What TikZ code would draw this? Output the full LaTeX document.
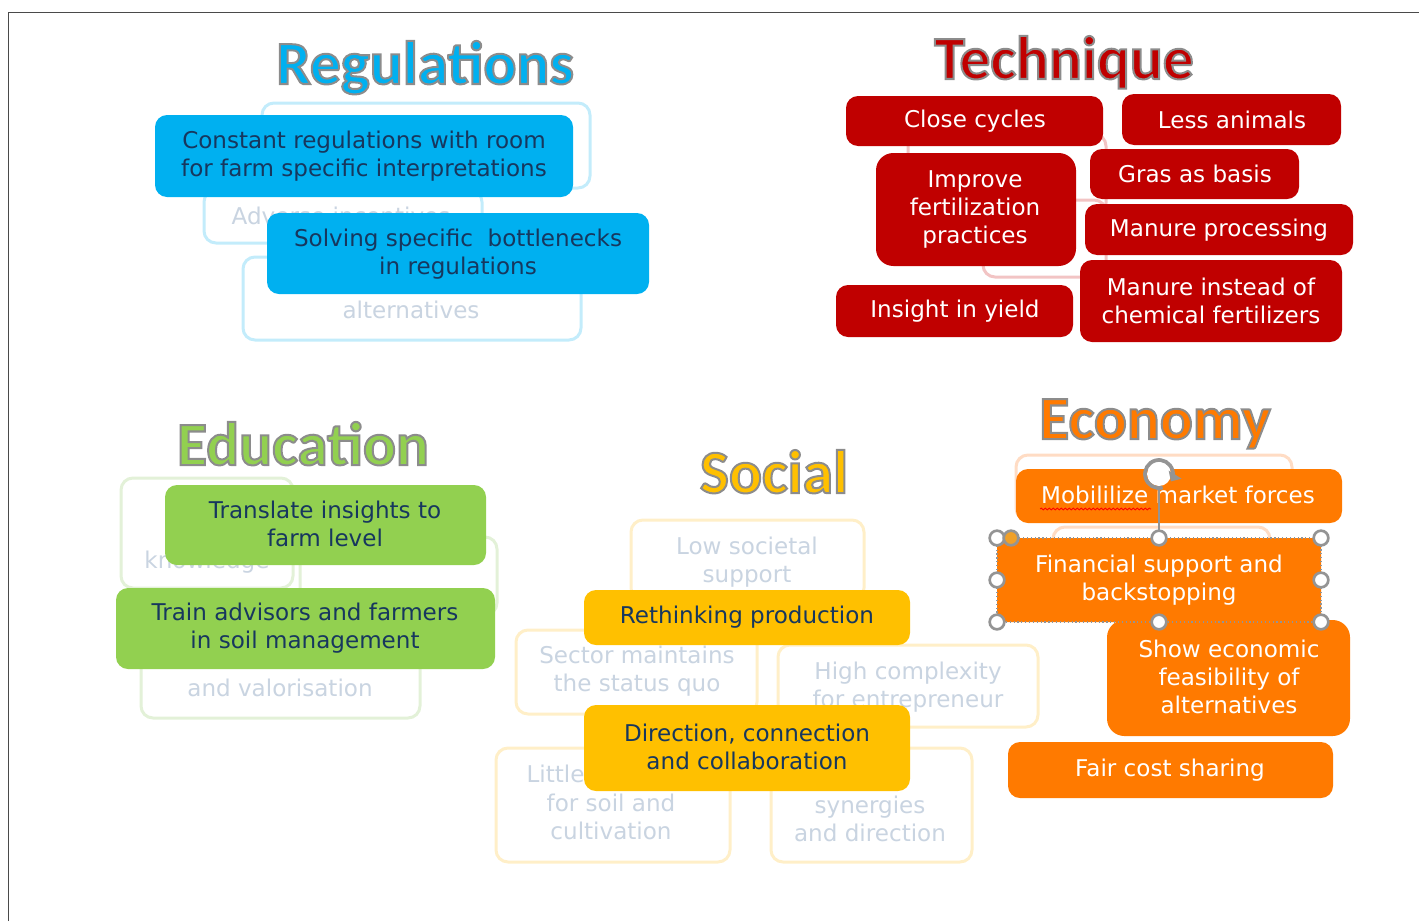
\documentclass[tikz,border=0pt]{standalone}
\usepackage{fontspec}
\setmainfont{DejaVu Sans}
\newfontfamily\titlefont{Carlito}
\usetikzlibrary{decorations.pathmorphing,arrows.meta}

\definecolor{regblue}{HTML}{00B0F0}
\definecolor{techred}{HTML}{C00000}
\definecolor{edugreen}{HTML}{92D050}
\definecolor{socyellow}{HTML}{FFC000}
\definecolor{ecoorange}{HTML}{FF7A00}
\definecolor{navytext}{HTML}{17375E}
\definecolor{fadetext}{HTML}{C9D4E1}
\definecolor{fadeblue}{HTML}{C3ECFB}
\definecolor{fadegreen}{HTML}{E3F1D8}
\definecolor{fadeyellow}{HTML}{FFEFC8}
\definecolor{fadeorange}{HTML}{FFDCC4}
\definecolor{fadepink}{HTML}{F2C4C4}
\definecolor{handlegray}{HTML}{949494}
\definecolor{handleorange}{HTML}{F0A028}
\definecolor{framegray}{HTML}{4A4A4A}

\tikzset{every picture/.style={line width=0.75pt},
  card/.style={rounded corners=9pt, draw=none},
  faint/.style={rounded corners=9pt, line width=2.25pt, fill=white},
  cardtext/.style={inner sep=0.75pt, align=center, font=\fontsize{17.3}{21}\selectfont},
  fainttext/.style={cardtext, text=fadetext},
  titletext/.style={anchor=base, inner sep=0pt, font=\titlefont\bfseries\fontsize{46}{54}\selectfont},
  handle/.style={circle, draw=handlegray, line width=2pt, fill=white, minimum size=11pt, inner sep=0pt},
}

% filled title letters with a grey rim (pdf text render mode 2)
\newcommand{\rimmed}[1]{\special{pdf:literal direct 0.55 0.55 0.55 RG 1.5 w 2 Tr}#1\special{pdf:literal direct 0 Tr}}

\begin{document}
\begin{tikzpicture}[x=0.75pt,y=0.75pt,yscale=-1,xscale=1]
\useasboundingbox (0,0) rectangle (1419,921);

%Frame
\draw [color=framegray, line width=1.1pt] (8.5,921) -- (8.5,12.5) -- (1419,12.5);

%%%%%%%% Regulations
%Faded boxes
\draw [faint, draw=fadeblue] (262,103) rectangle (590,188);
\draw [faint, draw=fadeblue] (204,190) rectangle (482,243);
\node [fainttext] (adverse) at (341,216) {Adverse incentives};
\draw [faint, draw=fadeblue] (243,257) rectangle (581,340);
\node [fainttext] (altreg) at (411,310) {alternatives};
%Cards
\draw [card, fill=regblue] (155,115) rectangle (573,197);
\node [cardtext, text=navytext] (constant) at (364,156) {Constant regulations with room\\for farm specific interpretations};
\draw [card, fill=regblue] (267,213) rectangle (649,294);
\node [cardtext, text=navytext] (solving) at (458,254) {Solving specific\ \ bottlenecks\\in regulations};
% Title
\node [titletext, text=regblue] (regtitle) at (425,84) {\rimmed{Regulations}};

%%%%%%%% Technique
%Faded boxes
\draw [faint, draw=fadepink] (908,134) rectangle (1106,215);
\draw [faint, draw=fadepink] (983,200) rectangle (1106,277);
%Cards
\draw [card, fill=techred] (846,96) rectangle (1103,146);
\node [cardtext, text=white] (close) at (975,121) {Close cycles};
\draw [card, fill=techred] (1122,94) rectangle (1341,145);
\node [cardtext, text=white] (less) at (1232,120) {Less animals};
\draw [card, rounded corners=13pt, fill=techred] (876,153) rectangle (1076,266);
\node [cardtext, text=white] (improve) at (975,209) {Improve\\fertilization\\practices};
\draw [card, fill=techred] (1090,149) rectangle (1299,199);
\node [cardtext, text=white] (gras) at (1195,174) {Gras as basis};
\draw [card, fill=techred] (1085,204) rectangle (1353,255);
\node [cardtext, text=white] (processing) at (1219,230) {Manure processing};
\draw [card, fill=techred] (1080,260) rectangle (1342,342);
\node [cardtext, text=white] (instead) at (1211,301) {Manure instead of\\chemical fertilizers};
\draw [card, fill=techred] (836,285) rectangle (1073,337);
\node [cardtext, text=white] (insight) at (955,311) {Insight in yield};
% Title
\node [titletext, text=techred] (techtitle) at (1064,79) {\rimmed{Technique}};

%%%%%%%% Education
%Faded boxes
\draw [faint, draw=fadegreen] (121,478) rectangle (293,588);
\node [fainttext] (knowledge) at (207,562) {knowledge};
\draw [faint, draw=fadegreen] (300,537) rectangle (497,615);
\draw [faint, draw=fadegreen] (141,640) rectangle (420,718);
\node [fainttext] (valor) at (280,688) {and valorisation};
%Cards
\draw [card, fill=edugreen] (165,485) rectangle (486,565);
\node [cardtext, text=navytext] (translate) at (325,524) {Translate insights to\\farm level};
\draw [card, fill=edugreen] (116,588) rectangle (495,669);
\node [cardtext, text=navytext] (train) at (305,628) {Train advisors and farmers\\in soil management};
% Title
\node [titletext, text=edugreen] (edutitle) at (303,465) {\rimmed{Education}};

%%%%%%%% Social
%Faded boxes
\draw [faint, draw=fadeyellow] (631,520) rectangle (864,600);
\node [fainttext] (lowsupport) at (747,562) {Low societal\\support};
\draw [faint, draw=fadeyellow] (516,630) rectangle (757,714);
\node [fainttext] (statusquo) at (637,671) {Sector maintains\\the status quo};
\draw [faint, draw=fadeyellow] (778,645) rectangle (1038,727);
\node [fainttext] (complexity) at (908,687) {High complexity\\for entrepreneur};
\draw [faint, draw=fadeyellow] (496,748) rectangle (730,862);
\node [fainttext, anchor=west] (little) at (525,774) {Little};
\node [fainttext] (soil) at (611,817) {for soil and\\cultivation};
\draw [faint, draw=fadeyellow] (771,748) rectangle (972,862);
\node [fainttext] (synergies) at (870,819) {synergies\\and direction};
%Cards
\draw [card, fill=socyellow] (584,590) rectangle (910,645);
\node [cardtext, text=navytext] (rethinking) at (747,617) {Rethinking production};
\draw [card, fill=socyellow] (584,705) rectangle (910,791);
\node [cardtext, text=navytext] (direction) at (747,747) {Direction, connection\\and collaboration};
% Title
\node [titletext, text=socyellow] (soctitle) at (774,493) {\rimmed{Social}};

%%%%%%%% Economy
%Faded boxes
\draw [faint, draw=fadeorange] (1016,455) rectangle (1292,520);
\draw [faint, draw=fadeorange] (1053,527) rectangle (1270,600);
%Cards
\draw [card, fill=ecoorange] (1016,469) rectangle (1342,523);
\node [cardtext, text=white] (mobilize) at (1178,495) {Mobililize market forces};
\draw [red, line width=0.6pt, decorate, decoration={snake, amplitude=0.7pt, segment length=3pt}] (1040,509) -- (1151,509);
\draw [card, rounded corners=4pt, fill=ecoorange] (997,538) rectangle (1321,622);
\node [cardtext, text=white] (financial) at (1159,580) {Financial support and\\backstopping};
\draw [card, rounded corners=13pt, fill=ecoorange] (1107,620) rectangle (1350,736);
\node [cardtext, text=white] (feasibility) at (1229,677) {Show economic\\feasibility of\\alternatives};
\draw [card, fill=ecoorange] (1008,742) rectangle (1333,798);
\node [cardtext, text=white] (fair) at (1170,770) {Fair cost sharing};
% Title
\node [titletext, text=ecoorange] (ecotitle) at (1155,439) {\rimmed{Economy}};

%Selection frame on the financial card
\draw [handlegray, dotted, line width=0.9pt] (997,538) rectangle (1321,622);
\coordinate (rotor) at (1159,474);
\coordinate (hN) at (1159,538);
\draw [handlegray, line width=1.3pt] (rotor) -- (hN);
\fill [white] (rotor) circle [radius=12];
\draw [handlegray, line width=2.8pt, -{Triangle[length=6pt,width=11pt]}] (rotor) ++(75:14) arc[start angle=75, end angle=392, radius=14];
\foreach \n/\p in {hNW/{997,538}, hN/{1159,538}, hNE/{1321,538}, hW/{997,580}, hE/{1321,580}, hSW/{997,622}, hS/{1159,622}, hSE/{1321,622}}
  \node [handle] (\n) at (\p) {};
\node [handle, fill=handleorange] (adjust) at (1011,538) {};

\end{tikzpicture}
\end{document}
